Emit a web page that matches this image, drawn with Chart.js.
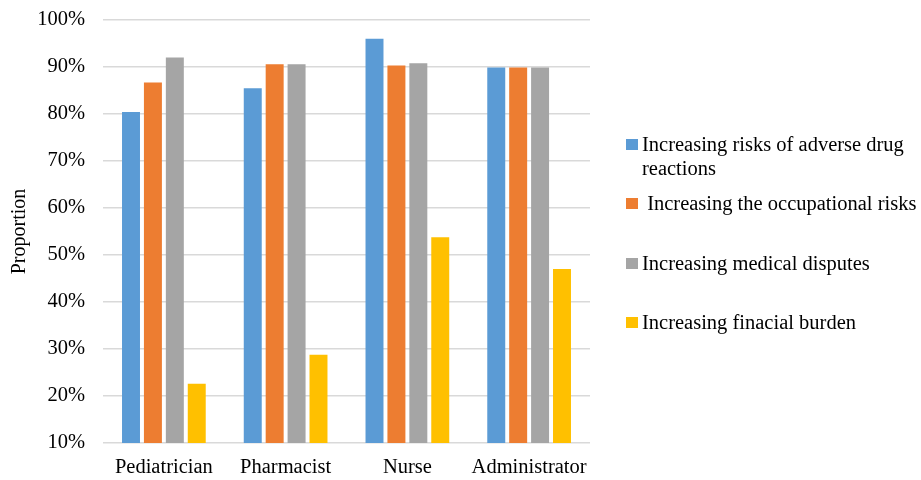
<!DOCTYPE html>
<html>
<head>
<meta charset="utf-8">
<script src="https://cdn.jsdelivr.net/npm/chart.js@4.4.0/dist/chart.umd.min.js"></script>
<style>
    html, body { margin: 0; padding: 0; background: #fff; }
    #wrap { position: relative; width: 921px; height: 480px; }
    #chart { position: absolute; left: 0; top: 0; }
    #legend { position: absolute; left: 626px; top: 0; width: 295px; font-family: "Liberation Serif", "Times New Roman", serif; font-size: 20.5px; color: #000; }
    .item { position: absolute; left: 0; display: flex; align-items: flex-start; line-height: 24px; }
    .box { width: 12px; height: 11px; margin-top: 7px; margin-right: 4px; flex: none; }
    .label { white-space: pre-wrap; width: 279px; }
    .item:nth-child(1) { top: 132px; }
    .item:nth-child(2) { top: 191px; }
    .item:nth-child(3) { top: 251px; }
    .item:nth-child(4) { top: 310px; }
</style>
</head>
<body>
<div id="wrap">
    <canvas id="chart" width="921" height="480"></canvas>
    <div id="legend"></div>
</div>
<script>
// Categories and series
const categories = ['Pediatrician', 'Pharmacist', 'Nurse', 'Administrator'];
const seriesNames = [
    'Increasing risks of adverse drug reactions',
    ' Increasing the occupational risks',
    'Increasing medical disputes',
    'Increasing finacial burden'
];
const adverseDrug = [80.4, 85.5, 96.0, 89.9];
const occupational = [86.7, 90.6, 90.3, 89.9];
const disputes = [92.0, 90.6, 90.8, 89.9];
const financial = [22.6, 28.8, 53.8, 47.0];
const yTicks = [10, 20, 30, 40, 50, 60, 70, 80, 90, 100];

const colors = ['#5B9BD5', '#ED7D31', '#A5A5A5', '#FFC000'];
const seriesValues = [adverseDrug, occupational, disputes, financial];

const serif = '"Liberation Serif", "Times New Roman", serif';

// Legend drawn as html so the first entry can wrap like the original
const legend = document.getElementById('legend');
legend.innerHTML = seriesNames.map((name, i) => `
    <div class="item">
        <span class="box" style="background:${colors[i]}"></span>
        <span class="label">${name}</span>
    </div>
`).join('');

const ctx = document.getElementById('chart').getContext('2d');
new Chart(ctx, {
    type: 'bar',
    data: {
        labels: categories,
        datasets: seriesNames.map((name, i) => ({
            label: name,
            data: seriesValues[i],
            backgroundColor: colors[i],
            borderWidth: 0,
            barPercentage: 0.82,
            categoryPercentage: 0.72
        }))
    },
    options: {
        responsive: false,
        animation: false,
        layout: { padding: { left: 0, right: 331, top: 20, bottom: 4 } },
        plugins: {
            legend: { display: false },
            tooltip: { enabled: false }
        },
        scales: {
            x: {
                afterFit: axis => {
                    axis.height = 33;
                    axis.paddingLeft = 0;
                    axis.paddingRight = 0;
                },
                grid: { display: false, drawTicks: false },
                border: { display: false },
                ticks: {
                    color: '#000',
                    padding: 12,
                    maxRotation: 0,
                    autoSkip: false,
                    font: { family: serif, size: 20.5 }
                }
            },
            y: {
                min: 10,
                max: 100,
                afterBuildTicks: axis => { axis.ticks = yTicks.map(v => ({ value: v })); },
                afterFit: axis => {
                    axis.width = 103;
                    axis.paddingTop = 0;
                    axis.paddingBottom = 0;
                },
                grid: { color: '#D9D9D9', lineWidth: 1.5, drawTicks: false },
                border: { display: false },
                ticks: {
                    color: '#000',
                    padding: 18,
                    font: { family: serif, size: 20.5 },
                    callback: v => v + '%'
                },
                title: {
                    display: true,
                    text: 'Proportion',
                    color: '#000',
                    padding: { top: 8, bottom: 2 },
                    font: { family: serif, size: 20 }
                }
            }
        }
    }
});
</script>
</body>
</html>
